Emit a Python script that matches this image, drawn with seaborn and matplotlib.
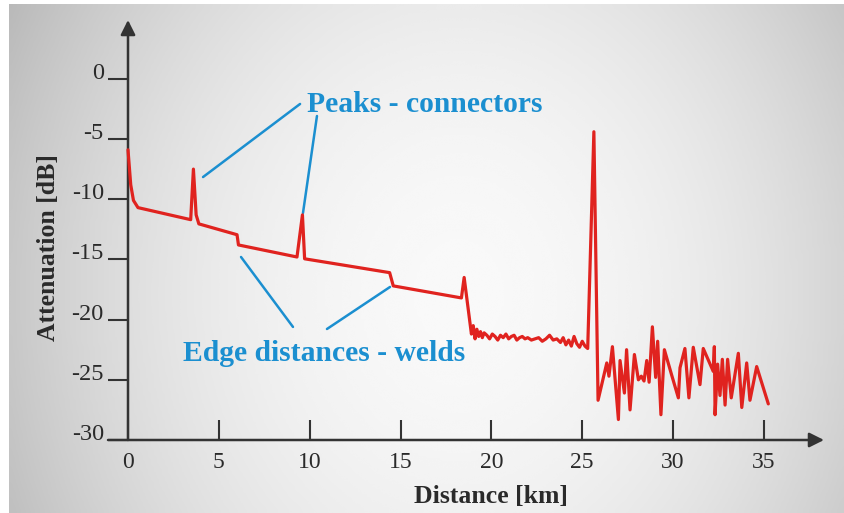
import numpy as np
import pandas as pd
import matplotlib
matplotlib.use('Agg')
import matplotlib.pyplot as plt
import seaborn as sns

# OTDR trace: clean section, noisy floor, end reflection, noise
distance = [0, 0.15, 0.3, 0.55, 3.45, 3.6, 3.75, 3.9, 6.0, 6.08, 9.3, 9.6, 9.72,
            14.4, 14.6, 18.35, 18.5, 18.9,
            19.0, 19.1, 19.2, 19.3, 19.4, 19.5, 19.6, 19.75, 19.9, 20.05, 20.2, 20.35,
            20.5, 20.65, 20.8, 20.95, 21.1, 21.25, 21.4, 21.55, 21.7, 21.85, 22.0, 22.2,
            22.4, 22.6, 22.8, 23.0, 23.2, 23.4, 23.6, 23.8, 23.95, 24.1, 24.25, 24.4,
            24.55, 24.7, 24.85, 25.0, 25.15, 25.3,
            25.64, 25.87,
            26.35, 26.47, 26.66, 26.99, 27.08, 27.32, 27.44, 27.63, 27.87, 28.09, 28.25,
            28.4, 28.55, 28.68, 28.86, 29.04, 29.15, 29.33, 29.52, 29.92, 30.29, 30.38,
            30.65, 30.87, 31.11, 31.48, 31.66, 32.21, 32.27, 32.31, 32.45, 32.58, 32.71,
            32.86, 33.0, 33.2, 33.59, 33.78, 34.05, 34.23, 34.6, 35.24]
attenuation = [-5.9, -8.8, -10.1, -10.7, -11.7, -7.5, -11.3, -12.05, -12.95, -13.8, -14.8, -11.3, -14.95,
               -16.1, -17.2, -18.2, -16.5, -21.2,
               -20.5, -21.6, -20.8, -21.4, -21.0, -21.5, -21.1, -21.3, -21.6, -21.2, -21.4, -21.7,
               -21.3, -21.5, -21.2, -21.6, -21.4, -21.3, -21.7, -21.5, -21.4, -21.6, -21.5, -21.7,
               -21.6, -21.5, -21.8, -21.6, -21.3, -21.7, -21.6, -21.9, -21.5, -22.1, -21.7, -22.2,
               -21.4, -22.0, -22.3, -21.8, -22.2, -22.4,
               -4.4, -26.7,
               -23.6, -24.7, -22.25, -28.3, -23.4, -26.1, -22.5, -27.5, -22.9, -25.0, -24.7,
               -25.1, -23.4, -25.2, -20.6, -24.8, -21.8, -27.9, -22.5, -24.6, -26.5, -24.0,
               -22.4, -26.5, -22.3, -25.4, -22.4, -24.3, -22.25, -27.9, -23.7, -26.3, -23.3,
               -27.1, -23.3, -26.5, -22.8, -27.3, -23.6, -26.7, -23.9, -27.0]

x_ticks = [0, 5, 10, 15, 20, 25, 30, 35]
x_tick_labels = ['0', '5', '10', '15', '20', '25', '30', '35']
y_ticks = [0, -5, -10, -15, -20, -25, -30]
y_tick_labels = ['0', '-5', '-10', '-15', '-20', '-25', '-30']

# callouts: text, text anchor, leader lines (start, end)
peaks_text = 'Peaks - connectors'
peaks_pos = (9.85, -2.76)
peaks_lines = [((9.47, -2.09), (4.13, -8.16)), ((10.40, -3.09), (9.63, -11.15))]
welds_text = 'Edge distances - welds'
welds_pos = (3.03, -23.44)
welds_lines = [((6.22, -14.80), (9.08, -20.61)), ((10.95, -20.78), (14.42, -17.29))]

df = pd.DataFrame({'distance': distance, 'attenuation': attenuation})

sns.set_theme(style='white')
plt.rcParams['font.family'] = ['Liberation Serif', 'DejaVu Serif']
plt.rcParams['axes.unicode_minus'] = False

W, H = 845, 513
fig = plt.figure(figsize=(W / 100, H / 100), dpi=100)
fig.patch.set_facecolor('white')

# grey radial background
bg = fig.add_axes([9 / W, 0, (W - 9) / W, (H - 4) / H])
gx, gy = np.meshgrid(np.linspace(0, W - 9, 300), np.linspace(0, H - 4, 200))
r2 = ((gx - 450) / 470) ** 2 + ((gy - 290) / 560) ** 2
shade = np.clip(0.975 - 0.21 * r2, 0, 1)
bg.imshow(shade, cmap='gray', vmin=0, vmax=1, aspect='auto', interpolation='bicubic')
bg.set_axis_off()

# data axes, laid out so 0 km sits at px 128 and -30 dB at px 440
pxk, pxd = 18.17, 12.04
left, right, bottom_px, top_px = 108, 830, 440, 15
ax = fig.add_axes([left / W, (H - bottom_px) / H, (right - left) / W, (bottom_px - top_px) / H])
ax.patch.set_alpha(0)
ax.set_xlim((left - 128) / pxk, (right - 128) / pxk)
ax.set_ylim(-30, -30 + (bottom_px - top_px) / pxd)
ax.spines['left'].set_position(('data', 0))
for s in ax.spines.values():
    s.set_visible(False)

axis_col = '#333333'
arrow = dict(arrowstyle='-|>', color=axis_col, lw=1.8, mutation_scale=22, shrinkA=0, shrinkB=0)
ax.annotate('', xy=(0, -30 + 420 / pxd), xytext=(0, -30), arrowprops=arrow)
ax.annotate('', xy=((824 - 128) / pxk, -30), xytext=((left - 128) / pxk, -30), arrowprops=arrow)

sns.lineplot(data=df, x='distance', y='attenuation', color='#e0231f', lw=2.3,
             sort=False, estimator=None, ax=ax, zorder=3)

ax.set_xticks(x_ticks)
ax.set_xticklabels(x_tick_labels)
ax.set_yticks(y_ticks)
ax.set_yticklabels(y_tick_labels)
ax.tick_params(axis='x', bottom=True, direction='in', length=14.4, width=1.5, color=axis_col,
               pad=9, labelsize=17, labelcolor='#2a2a2a')
ax.tick_params(axis='y', left=True, direction='out', length=14.4, width=1.5, color=axis_col,
               pad=3, labelsize=17.5, labelcolor='#2a2a2a')
for lab in ax.get_yticklabels():
    lab.set_va('baseline')

ax.set_xlabel('Distance [km]', fontsize=18.5, fontweight='bold', color='#2a2a2a')
ax.set_ylabel('Attenuation [dB]', fontsize=18.5, fontweight='bold', color='#2a2a2a')
ax.xaxis.set_label_coords((491 - left) / (right - left), (bottom_px - 497) / (bottom_px - top_px))
ax.xaxis.label.set_va('center')
ax.yaxis.set_label_coords((48 - left) / (right - left), (bottom_px - 248) / (bottom_px - top_px))
ax.yaxis.label.set_va('center')

blue = '#1b8fd0'
for (x0, y0), (x1, y1) in peaks_lines + welds_lines:
    ax.plot([x0, x1], [y0, y1], color=blue, lw=1.8, zorder=2)
ax.text(*peaks_pos, peaks_text, color=blue, fontsize=21.3, fontweight='bold', va='baseline')
ax.text(*welds_pos, welds_text, color=blue, fontsize=21.3, fontweight='bold', va='baseline')

fig.savefig('out.png', dpi=100)
